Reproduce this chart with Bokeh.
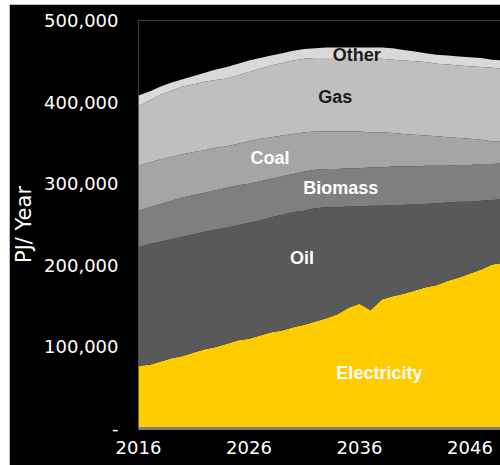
from bokeh.plotting import figure
from bokeh.models import ColumnDataSource, Range1d, FixedTicker, Label
from bokeh.embed import file_html
from bokeh.resources import INLINE

years = list(range(2016, 2051))
# values in thousand PJ / year
electricity = [77, 78, 82, 86, 89, 93, 97, 100, 104, 108, 110, 114, 118, 120, 124, 127, 131, 135, 140, 148,
               153, 145, 158, 162, 165, 169, 173, 176, 181, 185, 190, 195, 201, 203, 205]
oil = [145, 148, 147, 146, 146, 145, 144, 144, 142, 141, 142, 141, 141, 142, 141, 140, 139, 136, 131, 124,
       119, 128, 115, 112, 109, 106, 102, 100, 96, 93, 88, 84, 79, 78, 77]
biomass = [45, 45, 46, 47, 48, 48, 48, 48, 49, 49, 48, 48, 47, 47, 47, 48, 47, 47, 47, 47,
           47, 47, 47, 47, 47, 46, 47, 46, 45, 45, 45, 45, 44, 44, 43]
coal = [55, 55, 55, 54, 53, 53, 52, 52, 51, 51, 52, 52, 51, 50, 49, 48, 47, 46, 46, 45,
        45, 43, 43, 41, 40, 39, 37, 36, 35, 33, 32, 30, 28, 26, 25]
gas = [73, 76, 79, 81, 83, 83, 84, 83, 83, 84, 85, 86, 88, 89, 90, 90, 90, 90, 90, 90,
       90, 90, 90, 90, 90, 90, 90, 89, 89, 89, 89, 89, 90, 90, 90]
other = [13, 11, 10, 10, 9, 10, 11, 13, 14, 14, 14, 13, 12, 12, 12, 12, 12, 13, 13, 13,
         13, 14, 14, 14, 13, 12, 11, 11, 11, 11, 11, 11, 10, 10, 10]

series_names = ["Electricity", "Oil", "Biomass", "Coal", "Gas", "Other"]
colors = ["#FFCC00", "#595959", "#7F7F7F", "#A5A5A5", "#BFBFBF", "#D9D9D9"]
x_ticks = [2016, 2026, 2036, 2046]
y_ticks = [0, 100, 200, 300, 400, 500]
y_tick_labels = ["-", "100,000", "200,000", "300,000", "400,000", "500,000"]

source = ColumnDataSource(dict(year=years, Electricity=electricity, Oil=oil, Biomass=biomass,
                               Coal=coal, Gas=gas, Other=other))

p = figure(width=491, height=461, output_backend="svg", toolbar_location=None,
           x_range=Range1d(2016, 2048.76), y_range=Range1d(0, 500),
           background_fill_color="black", border_fill_color="black",
           min_border_left=129, min_border_right=0, min_border_top=16, min_border_bottom=37,
           margin=(4, 0, 0, 9))
p.outline_line_color = None
p.grid.visible = False

p.varea_stack(stackers=series_names, x="year", color=colors, source=source)

# axes
p.xaxis.ticker = FixedTicker(ticks=x_ticks)
p.yaxis.ticker = FixedTicker(ticks=y_ticks)
p.yaxis.major_label_overrides = {t: l for t, l in zip(y_ticks, y_tick_labels)}
for ax in (p.xaxis, p.yaxis):
    ax.major_tick_line_color = None
    ax.minor_tick_line_color = None
    ax.major_tick_out = 0
    ax.major_tick_in = 0
    ax.major_label_text_color = "white"
    ax.major_label_text_font = "DejaVu Sans"
    ax.major_label_text_font_size = "18px"
p.yaxis.axis_line_color = None
p.xaxis.axis_line_color = "#7F7F7F"
p.xaxis.axis_line_width = 3
p.yaxis.major_label_standoff = 20
p.xaxis.major_label_standoff = 12
p.yaxis.axis_label = "PJ/ Year"
p.yaxis.axis_label_text_color = "white"
p.yaxis.axis_label_text_font = "DejaVu Sans"
p.yaxis.axis_label_text_font_size = "21px"
p.yaxis.axis_label_text_font_style = "normal"
p.yaxis.axis_label_standoff = 5

labels = [("Other", 2035.75, 458, "#1a1a1a"), ("Gas", 2033.8, 406, "#1a1a1a"),
          ("Coal", 2027.9, 332, "white"), ("Biomass", 2034.3, 295, "white"),
          ("Oil", 2030.8, 209, "white"), ("Electricity", 2037.8, 68, "white")]
for txt, lx, ly, c in labels:
    p.add_layout(Label(x=lx, y=ly, text=txt, text_color=c, text_font="Liberation Sans",
                       text_font_style="bold", text_font_size="18px",
                       text_align="center", text_baseline="middle"))

open("out.html", "w").write(file_html(p, INLINE))
